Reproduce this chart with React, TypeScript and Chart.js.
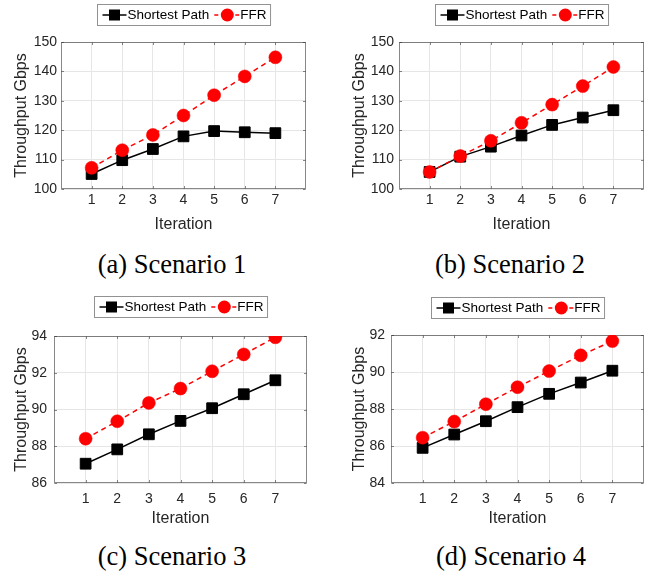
import React, { useEffect, useRef } from "react";
import { Chart, registerables } from "chart.js";

Chart.register(...registerables);

// ---------------- data ----------------
const iterations = [1, 2, 3, 4, 5, 6, 7];
const seriesNames = ["Shortest Path", "FFR"];
const xTitle = "Iteration";
const yTitle = "Throughput Gbps";

const s1Shortest = [105.1, 109.8, 113.6, 117.9, 119.7, 119.3, 119.0];
const s1FFR = [107.2, 113.2, 118.4, 125.0, 131.9, 138.3, 144.8];
const s1YTicks = [100, 110, 120, 130, 140, 150];

const s2Shortest = [105.8, 111.0, 114.4, 118.2, 121.8, 124.3, 126.8];
const s2FFR = [105.8, 111.2, 116.4, 122.5, 128.7, 135.0, 141.5];
const s2YTicks = [100, 110, 120, 130, 140, 150];

const s3Shortest = [87.05, 87.83, 88.65, 89.38, 90.07, 90.83, 91.59];
const s3FFR = [88.41, 89.36, 90.36, 91.14, 92.08, 93.0, 93.93];
const s3YTicks = [86, 88, 90, 92, 94];

const s4Shortest = [85.9, 86.62, 87.34, 88.1, 88.82, 89.43, 90.07];
const s4FFR = [86.45, 87.32, 88.26, 89.18, 90.05, 90.9, 91.67];
const s4YTicks = [84, 86, 88, 90, 92];

const xRange = [0, 8];

const captions = ["(a) Scenario 1", "(b) Scenario 2", "(c) Scenario 3", "(d) Scenario 4"];

// ---------------- styling / layout ----------------
const FONT = '"Liberation Sans", Arial, Helvetica, sans-serif';
const TEXT = "#262626";
const AXIS = "rgba(38,38,38,0.55)";
const GRID = "#e6e6e6";

type Lay = {
  left: number; top: number; w: number; h: number;
  pl: number; pr: number; pt: number; pb: number;
  legendTop: number; yTitleX: number; xTickY: number; xTitleY: number; yPad: number;
  capX: number; capBase: number;
};

const LAYOUTS: Lay[] = [
  { left: 0, top: 0, w: 328, h: 240, pl: 61, pr: 306, pt: 42, pb: 189, legendTop: 4, yTitleX: 22, xTickY: 200, xTitleY: 225, yPad: 4, capX: 172, capBase: 273 },
  { left: 328, top: 0, w: 328, h: 240, pl: 71, pr: 316, pt: 42, pb: 189, legendTop: 4, yTitleX: 32, xTickY: 200, xTitleY: 225, yPad: 5, capX: 510, capBase: 273 },
  { left: 0, top: 290, w: 328, h: 240, pl: 54, pr: 307, pt: 46, pb: 193, legendTop: 6, yTitleX: 22, xTickY: 209, xTitleY: 229, yPad: 7, capX: 172, capBase: 565 },
  { left: 328, top: 290, w: 328, h: 240, pl: 63, pr: 316, pt: 45, pb: 193, legendTop: 7, yTitleX: 32, xTickY: 209, xTitleY: 229, yPad: 6, capX: 511, capBase: 565 },
];

const CHARTS = [
  { sp: s1Shortest, ffr: s1FFR, yTicks: s1YTicks },
  { sp: s2Shortest, ffr: s2FFR, yTicks: s2YTicks },
  { sp: s3Shortest, ffr: s3FFR, yTicks: s3YTicks },
  { sp: s4Shortest, ffr: s4FFR, yTicks: s4YTicks },
];

function makeFramePlugin(lay: Lay, yTicks: number[]) {
  return {
    id: "frameAndLegend",
    beforeDatasetsDraw(chart: any) {
      const { ctx, chartArea: a, scales } = chart;
      ctx.save();
      ctx.strokeStyle = AXIS;
      ctx.lineWidth = 1;
      const L = Math.round(a.left) + 0.5, T = Math.round(a.top) + 0.5;
      const R = Math.round(a.right) - 0.5, B = Math.round(a.bottom) - 0.5;
      ctx.strokeRect(L, T, R - L, B - T);
      const tl = 2.5;
      ctx.beginPath();
      for (const v of iterations) {
        const x = Math.round(scales.x.getPixelForValue(v)) + 0.5;
        ctx.moveTo(x, B); ctx.lineTo(x, B - tl);
        ctx.moveTo(x, T); ctx.lineTo(x, T + tl);
      }
      for (const v of yTicks) {
        const y = Math.round(scales.y.getPixelForValue(v)) + 0.5;
        ctx.moveTo(L, y); ctx.lineTo(L + tl, y);
        ctx.moveTo(R, y); ctx.lineTo(R - tl, y);
      }
      ctx.stroke();
      ctx.restore();
    },
    afterDraw(chart: any) {
      const { ctx, chartArea: a } = chart;
      ctx.save();
      ctx.font = `13.5px ${FONT}`;
      const w1 = ctx.measureText(seriesNames[0]).width;
      const w2 = ctx.measureText(seriesNames[1]).width;
      const W = 5 + 24 + 1 + w1 + 5 + 25 + 1 + w2 + 4;
      const h = 21;
      const x0 = Math.round((a.left + a.right) / 2 - W / 2) + 0.5;
      const y0 = lay.legendTop + 0.5;
      ctx.fillStyle = "#ffffff";
      ctx.fillRect(x0, y0, W, h);
      ctx.strokeStyle = "rgba(38,38,38,0.5)";
      ctx.lineWidth = 1;
      ctx.strokeRect(x0, y0, W, h);
      const my = y0 + h / 2;
      // item 1
      let x = x0 + 5;
      ctx.strokeStyle = "#000";
      ctx.lineWidth = 1.5;
      ctx.beginPath(); ctx.moveTo(x, my); ctx.lineTo(x + 24, my); ctx.stroke();
      ctx.fillStyle = "#000";
      ctx.fillRect(x + 12 - 5.5, my - 5.5, 11, 11);
      x += 25;
      ctx.fillStyle = "#000";
      ctx.textBaseline = "middle";
      ctx.textAlign = "left";
      ctx.fillText(seriesNames[0], x, my + 0.5);
      x += w1 + 5;
      // item 2
      ctx.strokeStyle = "#ff0000";
      ctx.setLineDash([4, 3]);
      ctx.beginPath(); ctx.moveTo(x, my); ctx.lineTo(x + 25, my); ctx.stroke();
      ctx.setLineDash([]);
      ctx.fillStyle = "#ff0000";
      ctx.beginPath(); ctx.arc(x + 13, my, 6.5, 0, Math.PI * 2); ctx.fill();
      x += 26;
      ctx.fillStyle = "#000";
      ctx.fillText(seriesNames[1], x, my + 0.5);
      ctx.restore();
    },
  };
}

function SubChart({ idx }: { idx: number }) {
  const ref = useRef<HTMLCanvasElement | null>(null);
  const lay = LAYOUTS[idx];
  const d = CHARTS[idx];
  useEffect(() => {
    if (!ref.current) return;
    const yMin = d.yTicks[0];
    const yMax = d.yTicks[d.yTicks.length - 1];
    const yStep = d.yTicks[1] - d.yTicks[0];
    const tickLH = 14 * 1.2;
    const titleLH = 16 * 1.2;
    const chart = new Chart(ref.current, {
      type: "line",
      data: {
        datasets: [
          {
            label: seriesNames[0],
            data: iterations.map((it, i) => ({ x: it, y: d.sp[i] })),
            borderColor: "#000000",
            backgroundColor: "#000000",
            borderWidth: 1.5,
            pointStyle: "rect",
            pointRadius: 7.6,
            pointBorderWidth: 1,
            pointBorderColor: "#000000",
            pointBackgroundColor: "#000000",
            tension: 0,
            order: 1,
          },
          {
            label: seriesNames[1],
            data: iterations.map((it, i) => ({ x: it, y: d.ffr[i] })),
            borderColor: "#ff0000",
            backgroundColor: "#ff0000",
            borderWidth: 1.5,
            borderDash: [5, 4],
            pointStyle: "circle",
            pointRadius: 6.5,
            pointBorderWidth: 0.5,
            pointBorderColor: "#ff0000",
            pointBackgroundColor: "#ff0000",
            tension: 0,
            order: 0,
          },
        ],
      },
      options: {
        animation: false,
        responsive: false,
        devicePixelRatio: 1,
        events: [],
        layout: {
          padding: { left: 0, top: lay.pt, right: lay.w - lay.pr, bottom: 0 },
        },
        plugins: {
          legend: { display: false },
          tooltip: { enabled: false },
          title: { display: false },
        },
        scales: {
          x: {
            type: "linear",
            min: xRange[0],
            max: xRange[1],
            afterFit: (s: any) => { s.height = lay.h - lay.pb; },
            afterBuildTicks: (s: any) => {
              s.ticks = [xRange[0], ...iterations, xRange[1]].map((v) => ({ value: v }));
            },
            ticks: {
              autoSkip: false,
              maxRotation: 0,
              padding: lay.xTickY - lay.pb - tickLH / 2,
              color: TEXT,
              font: { family: FONT, size: 14 },
              callback: (v: any) => (iterations.includes(Number(v)) ? String(v) : null),
            },
            grid: { color: GRID, lineWidth: 1, drawTicks: false },
            border: { display: false },
            title: {
              display: true,
              text: xTitle,
              color: TEXT,
              font: { family: FONT, size: 16 },
              padding: { top: 0, bottom: lay.h - lay.xTitleY - titleLH / 2 },
            },
          },
          y: {
            type: "linear",
            min: yMin,
            max: yMax,
            afterFit: (s: any) => { s.width = lay.pl; },
            afterBuildTicks: (s: any) => {
              s.ticks = d.yTicks.map((v) => ({ value: v }));
            },
            ticks: {
              stepSize: yStep,
              padding: lay.yPad,
              color: TEXT,
              font: { family: FONT, size: 14 },
              callback: (v: any) => String(v),
            },
            grid: { color: GRID, lineWidth: 1, drawTicks: false },
            border: { display: false },
            title: {
              display: true,
              text: yTitle,
              color: TEXT,
              font: { family: FONT, size: 16 },
              padding: { top: lay.yTitleX - titleLH / 2, bottom: 0 },
            },
          },
        },
      },
      plugins: [makeFramePlugin(lay, d.yTicks)],
    } as any);
    return () => chart.destroy();
  }, [idx]);
  return (
    <canvas
      ref={ref}
      width={lay.w}
      height={lay.h}
      style={{ position: "absolute", left: lay.left, top: lay.top, width: lay.w, height: lay.h }}
    />
  );
}

function Caption({ idx }: { idx: number }) {
  const lay = LAYOUTS[idx];
  const size = 26.5;
  return (
    <div
      style={{
        position: "absolute",
        left: lay.capX - 120,
        width: 240,
        top: lay.capBase - 21.8,
        textAlign: "center",
        fontFamily: '"Liberation Serif", "Times New Roman", serif',
        fontSize: size,
        lineHeight: `${size}px`,
        color: "#000",
        whiteSpace: "pre",
      }}
    >
      {captions[idx]}
    </div>
  );
}

export default function App() {
  return (
    <div style={{ position: "absolute", left: 0, top: 0, width: 656, height: 574, background: "#fff", overflow: "hidden" }}>
      {[0, 1, 2, 3].map((i) => (
        <SubChart key={"c" + i} idx={i} />
      ))}
      {[0, 1, 2, 3].map((i) => (
        <Caption key={"t" + i} idx={i} />
      ))}
    </div>
  );
}
